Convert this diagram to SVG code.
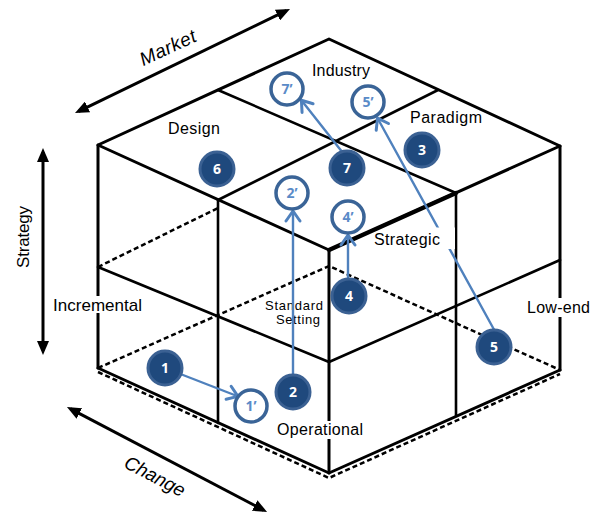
<svg xmlns="http://www.w3.org/2000/svg" width="598" height="513" viewBox="0 0 598 513">
<style>
.e{stroke:#000;stroke-width:2.6;fill:none;stroke-linecap:round;stroke-linejoin:round}
.o{stroke:#000;stroke-width:3;fill:none;stroke-linecap:round;stroke-linejoin:round}
.d{stroke:#000;stroke-width:2.5;fill:none;stroke-dasharray:5 3}
.ax{stroke:#000;stroke-width:3;fill:none}
.t{font-family:"Liberation Sans",Arial,sans-serif;fill:#000;text-anchor:middle}
.c{stroke:#4f81bd;stroke-width:2.4;fill:none;stroke-linecap:round}
.f circle{fill:#1f497d;stroke:#3b6193;stroke-width:3}
.f text{font-family:"Open Sans","Liberation Sans",sans-serif;font-weight:bold;font-size:14px;fill:#fff;text-anchor:middle}
.h circle{fill:#fff;stroke:#3a6497;stroke-width:3.5}
.h text{font-family:"Open Sans","Liberation Sans",sans-serif;font-weight:bold;font-size:14px;fill:#5a8bc8;text-anchor:middle}
.bg{fill:#fff}
</style>
<defs>
<marker id="ah" viewBox="0 0 14 12" refX="10" refY="6" markerWidth="14" markerHeight="12" markerUnits="userSpaceOnUse" orient="auto-start-reverse">
<path d="M0,0 L14,6 L0,12 z" fill="#000"/>
</marker>
<marker id="ch" viewBox="-2 -2 14 18" refX="9" refY="7" markerWidth="14" markerHeight="18" markerUnits="userSpaceOnUse" orient="auto">
<path d="M0,0 L10,7 L0,14" fill="none" stroke="#4f81bd" stroke-width="3" stroke-linecap="round" stroke-linejoin="round"/>
</marker>
</defs>

<g id="axes">
<line class="ax" x1="78.6" y1="111.3" x2="286.4" y2="10.7" marker-start="url(#ah)" marker-end="url(#ah)"/>
<line class="ax" x1="43" y1="152" x2="43" y2="351" marker-start="url(#ah)" marker-end="url(#ah)"/>
<line class="ax" x1="70.5" y1="408.9" x2="263.5" y2="510.1" marker-start="url(#ah)" marker-end="url(#ah)"/>
<text class="t" font-size="19" font-style="italic" textLength="60" transform="translate(170.5,53.5) rotate(-25)">Market</text>
<text class="t" font-size="17" textLength="62" transform="translate(29,237) rotate(-90)">Strategy</text>
<text class="t" font-size="19" font-style="italic" textLength="66" transform="translate(152,482) rotate(27.7)">Change</text>
</g>

<g id="cube">
<polyline class="d" points="98,368 329,266 560,370"/>
<line class="d" x1="98" y1="267" x2="218" y2="208"/>
<polyline class="d" points="98,372 329,478 560,374"/>
<polygon class="o" points="98,145 329,39 560,146 329,250"/>
<line class="e" x1="218" y1="90" x2="456" y2="193"/>
<line class="e" x1="218" y1="200" x2="438" y2="90"/>
<line stroke="#000" stroke-width="4.2" stroke-linecap="round" x1="329" y1="250" x2="456" y2="193"/>
<line class="o" x1="98" y1="145" x2="98" y2="368"/>
<line class="o" x1="329" y1="250" x2="329" y2="473"/>
<line class="o" x1="560" y1="146" x2="560" y2="370"/>
<line class="e" x1="218" y1="200" x2="218" y2="423"/>
<line class="e" x1="456" y1="193" x2="456" y2="416"/>
<polyline class="e" points="98,267 329,362 560,260"/>
<polyline class="o" points="98,368 329,473 560,370"/>
</g>

<g id="label-standard-setting">
<text class="t" font-size="13" x="294" y="310" textLength="58">Standard</text>
<text class="t" font-size="13" x="298" y="324" textLength="44">Setting</text>
</g>

<g id="connectors">
<line class="c" x1="165" y1="368" x2="237" y2="396" marker-end="url(#ch)"/>
<line class="c" x1="293" y1="380" x2="293" y2="212" marker-end="url(#ch)"/>
<line class="c" x1="348" y1="285" x2="348" y2="236" marker-end="url(#ch)"/>
<line class="c" x1="354" y1="167" x2="302" y2="101" marker-end="url(#ch)"/>
<line class="c" x1="497" y1="335" x2="378" y2="119" marker-end="url(#ch)"/>
</g>

<g id="labels">
<text class="t" font-size="16" x="341" y="76" textLength="58">Industry</text>
<text class="t" font-size="16" x="194" y="134" textLength="52">Design</text>
<text class="t" font-size="16" x="446" y="123" textLength="72">Paradigm</text>
<rect class="bg" x="386" y="227.5" width="69" height="21.5"/>
<text class="t" font-size="16" x="407" y="245" textLength="66">Strategic</text>
<rect class="bg" x="51" y="296" width="93" height="17"/>
<text class="t" font-size="17" x="97.5" y="310.7" textLength="89">Incremental</text>
<rect class="bg" x="525" y="298" width="67" height="19"/>
<text class="t" font-size="16" x="558.5" y="313" textLength="63">Low-end</text>
<rect class="bg" x="275" y="421" width="90" height="18"/>
<text class="t" font-size="16" x="320" y="435" textLength="86">Operational</text>
</g>

<g id="node-1" class="f"><circle cx="165" cy="368" r="17"/><text x="165" y="373">1</text></g>
<g id="node-1p" class="h"><circle cx="251" cy="406" r="16"/><text x="251" y="411">1’</text></g>
<g id="node-2" class="f"><circle cx="293" cy="392" r="17"/><text x="293" y="397">2</text></g>
<g id="node-2p" class="h"><circle cx="292" cy="193" r="16"/><text x="292" y="198">2’</text></g>
<g id="node-3" class="f"><circle cx="422" cy="150" r="17"/><text x="422" y="155">3</text></g>
<g id="node-4" class="f"><circle cx="349" cy="296" r="17"/><text x="349" y="301">4</text></g>
<g id="node-4p" class="h"><circle cx="348" cy="217" r="16"/><text x="348" y="222">4’</text></g>
<g id="node-5" class="f"><circle cx="494" cy="347" r="17"/><text x="494" y="352">5</text></g>
<g id="node-5p" class="h"><circle cx="368" cy="102" r="16"/><text x="368" y="107">5’</text></g>
<g id="node-6" class="f"><circle cx="217" cy="169" r="17"/><text x="217" y="174">6</text></g>
<g id="node-7" class="f"><circle cx="347" cy="168" r="17"/><text x="347" y="173">7</text></g>
<g id="node-7p" class="h"><circle cx="287" cy="89" r="16"/><text x="287" y="94">7’</text></g>
</svg>
